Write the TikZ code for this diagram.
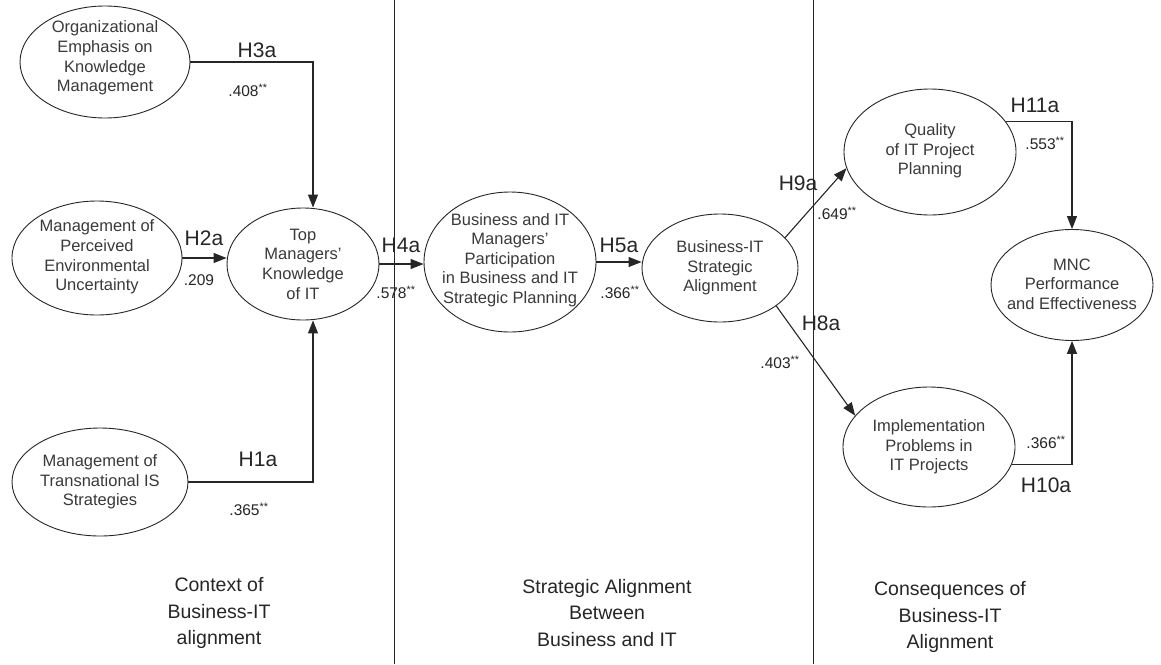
\documentclass[tikz,border=0pt]{standalone}
\usepackage{fontspec}
\setmainfont{Liberation Sans}
\usetikzlibrary{shapes.geometric,arrows.meta,calc}
\definecolor{ink}{HTML}{262626}
\definecolor{txt}{HTML}{3A3A3A}
\begin{document}
\begin{tikzpicture}[x=1pt,y=-1pt,
  ell/.style={draw=ink, line width=0.9pt, ellipse, inner sep=0pt},
  etext/.style={text=txt, font=\fontsize{16.5}{19.6}\selectfont, align=center, inner sep=0pt},
  hyp/.style={text=ink, font=\fontsize{21}{24}\selectfont, inner sep=0pt},
  coef/.style={text=ink, font=\fontsize{15.5}{18}\selectfont, inner sep=0pt},
  arr/.style={draw=ink, line width=1.1pt, -{Triangle[length=13pt,width=10pt]}},
  divider/.style={draw=ink, line width=0.8pt},
  section/.style={text=ink, font=\fontsize{19.5}{26.5}\selectfont, align=center, inner sep=0pt}]

\useasboundingbox[fill=white] (0,0) rectangle (1161,664);

% column dividers
\coordinate (d1t) at (394,0);   \coordinate (d1b) at (394,664);
\coordinate (d2t) at (813,0);   \coordinate (d2b) at (813,664);
\draw[divider] (d1t) -- (d1b);
\draw[divider] (d2t) -- (d2b);

% constructs
\node[ell, minimum width=170pt, minimum height=112pt] (org) at (105,62) {};
\node[etext] (orgt) at (105,58) {Organizational\\Emphasis on\\Knowledge\\Management};

\node[ell, minimum width=170pt, minimum height=114pt] (env) at (97,258) {};
\node[etext] (envt) at (97,257) {Management of\\Perceived\\Environmental\\Uncertainty};

\node[ell, minimum width=152pt, minimum height=112pt] (tm) at (303,264) {};
\node[etext] (tmt) at (303,264) {Top\\Managers'\\Knowledge\\of IT};

\node[ell, minimum width=176pt, minimum height=108pt] (trans) at (100,482) {};
\node[etext] (transt) at (100,482) {Management of\\Transnational IS\\Strategies};

\node[ell, minimum width=172pt, minimum height=140pt] (bp) at (510,262) {};
\node[etext] (bpt) at (510,260) {Business and IT\\Managers'\\Participation\\in Business and IT\\Strategic Planning};

\node[ell, minimum width=156pt, minimum height=108pt] (bia) at (720,268) {};
\node[etext] (biat) at (720,268) {Business-IT\\Strategic\\Alignment};

\node[ell, minimum width=172pt, minimum height=126pt] (qual) at (930,152) {};
\node[etext] (qualt) at (930,151) {Quality\\of IT Project\\Planning};

\node[ell, minimum width=162pt, minimum height=111pt] (mnc) at (1072,285) {};
\node[etext] (mnct) at (1072,284) {MNC\\Performance\\and Effectiveness};

\node[ell, minimum width=172pt, minimum height=120pt] (impl) at (929,447) {};
\node[etext] (implt) at (929,447) {Implementation\\Problems in\\IT Projects};

% paths
\coordinate (tmtop) at ([xshift=10pt]tm.north);
\coordinate (tmbot) at ([xshift=10pt]tm.south);
\draw[arr] (org.east) -| (tmtop);
\draw[arr] (trans.east) -| (tmbot);
\draw[arr] (env.east) -- (env.east -| tm.west);
\draw[arr] (tm.east) -- (tm.east -| bp.west);
\draw[arr] (bp.east) -- (bp.east -| bia.west);
\draw[arr] (bia.25) -- (qual.191);
\draw[arr] (bia.-34) -- (impl.157);
\draw[arr] (qual.22) -| (mnc.north);
\draw[arr] (impl.-12) -| (mnc.south);

% path labels
\node[hyp] (h3) at (257,50) {H3a};
\node[coef] (c3) at (248,90) {.408\textsuperscript{**}};
\node[hyp] (h2) at (204,238) {H2a};
\node[coef] (c2) at (199,280) {.209};
\node[hyp] (h1) at (258,459) {H1a};
\node[coef] (c1) at (249,509) {.365\textsuperscript{**}};
\node[hyp] (h4) at (401,245) {H4a};
\node[coef] (c4) at (396,292) {.578\textsuperscript{**}};
\node[hyp] (h5) at (619,245) {H5a};
\node[coef] (c5) at (620,292) {.366\textsuperscript{**}};
\node[hyp] (h9) at (798,183) {H9a};
\node[coef] (c9) at (837,213) {.649\textsuperscript{**}};
\node[hyp] (h8) at (821,323) {H8a};
\node[coef] (c8) at (780,362) {.403\textsuperscript{**}};
\node[hyp] (h11) at (1035,105) {H11a};
\node[coef] (c11) at (1045,143) {.553\textsuperscript{**}};
\node[coef] (c10) at (1046,442) {.366\textsuperscript{**}};
\node[hyp] (h10) at (1046,485) {H10a};

% column headings
\node[section] (s1) at (219,613) {Context of\\Business-IT\\alignment};
\node[section] (s2) at (607,613) {Strategic Alignment\\Between\\Business and IT};
\node[section] (s3) at (950,617) {Consequences of\\Business-IT\\Alignment};
\end{tikzpicture}
\end{document}
